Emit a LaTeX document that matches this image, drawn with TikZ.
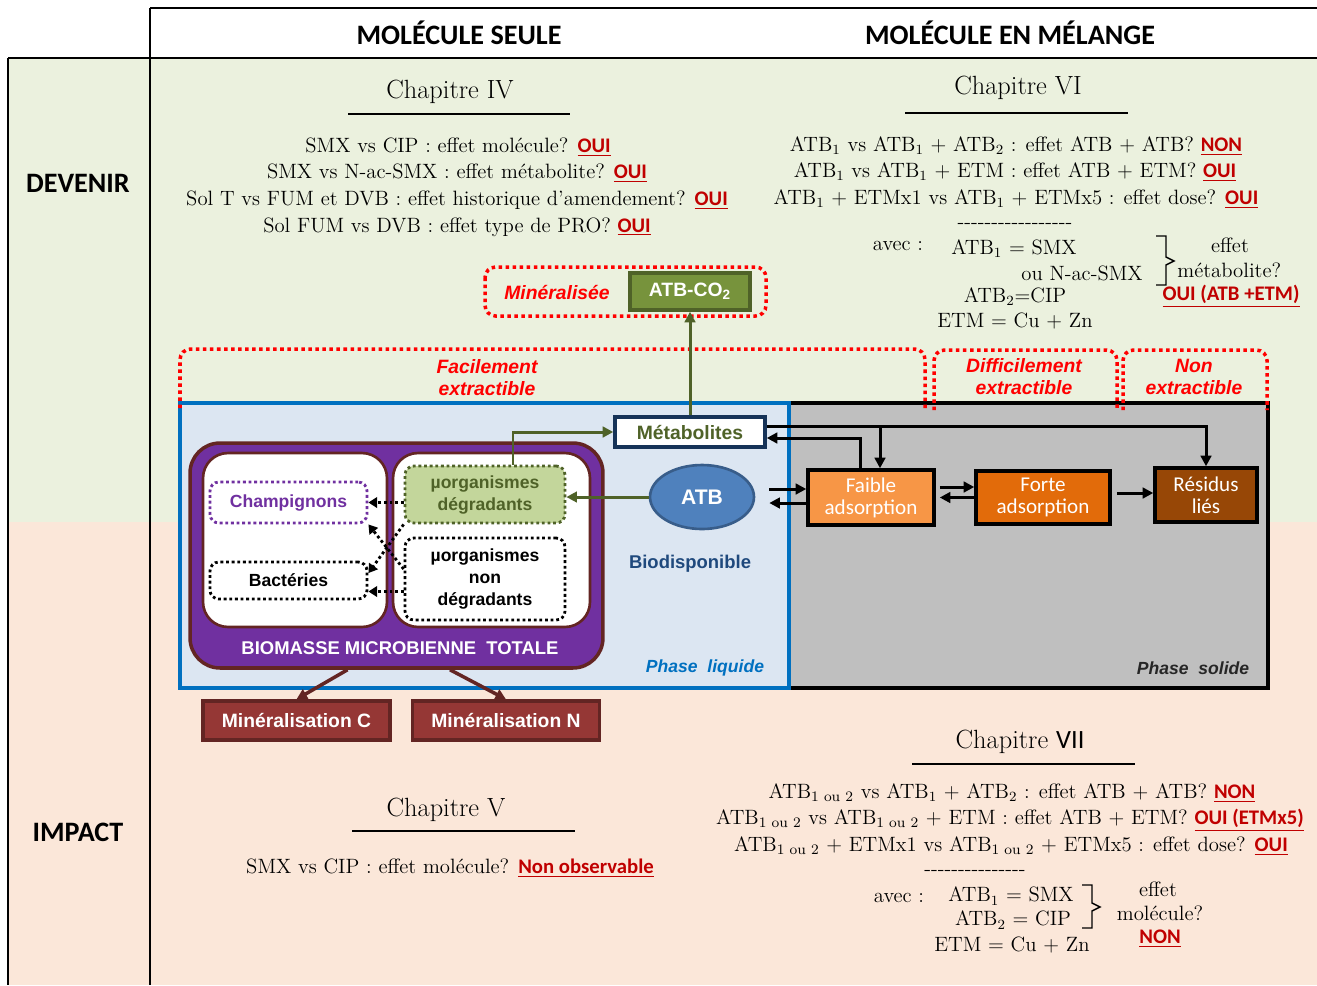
\documentclass[tikz,border=0pt]{standalone}
\usepackage{fontspec}
\setsansfont{Liberation Sans}
\newfontfamily\calib{Carlito}
\usetikzlibrary{arrows.meta,shapes.geometric}

\definecolor{DevGreen}{HTML}{EBF1DE}
\definecolor{ImpPeach}{HTML}{FBE7D9}
\definecolor{LiqBlue}{HTML}{DCE6F2}
\definecolor{SolGray}{HTML}{BFBFBF}
\definecolor{AnsRed}{HTML}{C00000}
\definecolor{OliveDk}{HTML}{4F6228}
\definecolor{Olive}{HTML}{77933C}
\definecolor{OliveLt}{HTML}{C3D69B}
\definecolor{BioPurple}{HTML}{7030A0}
\definecolor{Maroon}{HTML}{632523}
\definecolor{Brick}{HTML}{953735}
\definecolor{OrgLt}{HTML}{F79646}
\definecolor{OrgMd}{HTML}{E26B0A}
\definecolor{OrgDk}{HTML}{974706}
\definecolor{AtbBlue}{HTML}{4F81BD}
\definecolor{AtbEdge}{HTML}{385D8A}
\definecolor{NavyDk}{HTML}{1F497D}
\definecolor{PhaseBlue}{HTML}{0070C0}

\newcommand{\rep}[1]{{\calib\bfseries\color{AnsRed}\underline{#1}}}

\begin{document}
\begin{tikzpicture}[x=0.02cm,y=-0.02cm,
grid/.style={line width=1.2pt},
uline/.style={line width=0.8pt},
hdr/.style={font=\calib\bfseries\fontsize{16}{19}\selectfont},
chap/.style={font=\fontsize{15}{18}\selectfont},
qline/.style={font=\fontsize{11.8}{15}\selectfont,inner sep=0pt},
zone/.style={draw=red,line width=2pt,dash pattern=on 2pt off 2pt,rounded corners=6pt},
zlbl/.style={text=red,font=\sffamily\bfseries\itshape\fontsize{11}{12.5}\selectfont,align=center},
sbox/.style={draw=black,line width=2pt,text=white,font=\calib\fontsize{12}{12.5}\selectfont,align=center,inner sep=0pt},
mbox/.style={draw=Maroon,line width=2pt,fill=Brick,text=white,font=\sffamily\bfseries\fontsize{11}{13}\selectfont,minimum width=3.75cm,minimum height=0.78cm},
org/.style={rounded corners=5pt,line width=1.6pt,dash pattern=on 1.6pt off 1.6pt,font=\sffamily\bfseries\fontsize{10}{12.5}\selectfont,align=center,inner sep=0pt},
dotarr/.style={-{Triangle[length=5pt,width=6pt]},line width=1.6pt,dash pattern=on 1.6pt off 1.6pt},
blk/.style={-{Triangle[length=6pt,width=6pt]},line width=1.7pt},
grn/.style={-{Triangle[length=6pt,width=6pt]},line width=1.7pt,draw=OliveDk},
mar/.style={-{Triangle[length=6pt,width=6pt]},line width=2pt,draw=Maroon}]

% fonds et grille
\useasboundingbox (0,0) rectangle (1317,985);
\fill[DevGreen] (8,58) rectangle (1317,522);
\fill[ImpPeach] (8,522) rectangle (1317,985);
\draw[grid] (150,8) -- (1317,8);
\draw[grid] (8,58) -- (1317,58);
\draw[grid] (150,8) -- (150,985);
\draw[grid] (8,58) -- (8,985);

\node[hdr] (seule) at (459,33) {MOLÉCULE SEULE};
\node[hdr] (melange) at (1010,33) {MOLÉCULE EN MÉLANGE};
\node[hdr] (devenir) at (78,183) {DEVENIR};
\node[hdr] (impact) at (78,832) {IMPACT};

% chapitre IV
\node[chap] (ch4) at (450,92) {Chapitre IV};
\draw[uline] (348,114) -- (570,114);
\node[qline] (q4a) at (458,147) {SMX vs CIP : effet molécule? \rep{OUI}};
\node[qline] (q4b) at (457,173) {SMX vs N-ac-SMX : effet métabolite? \rep{OUI}};
\node[qline] (q4c) at (457,200) {Sol T vs FUM et DVB : effet historique d’amendement? \rep{OUI}};
\node[qline] (q4d) at (457,227) {Sol FUM vs DVB : effet type de PRO? \rep{OUI}};

% chapitre VI
\node[chap] (ch6) at (1018,88) {Chapitre VI};
\draw[uline] (905,113) -- (1128,113);
\node[qline] (q6a) at (1016,146) {ATB$_1$ vs ATB$_1$ + ATB$_2$ : effet ATB + ATB? \rep{NON}};
\node[qline] (q6b) at (1015,172) {ATB$_1$ vs ATB$_1$ + ETM : effet ATB + ETM? \rep{OUI}};
\node[qline] (q6c) at (1016,199) {ATB$_1$ + ETMx1 vs ATB$_1$ + ETMx5 : effet dose? \rep{OUI}};
\node[qline] (t6) at (1015,226) {-{}-{}-{}-{}-{}-{}-{}-{}-{}-{}-{}-{}-{}-{}-{}-{}-};
\node[qline] (avec6) at (898,246) {avec :};
\node[qline] (smx6) at (1014,249) {ATB$_1$ = SMX};
\node[qline] (nac6) at (1082,273) {ou N-ac-SMX};
\node[qline] (cip6) at (1015,297) {ATB$_2$=CIP};
\node[qline] (etm6) at (1015,321) {ETM = Cu + Zn};
\draw[uline] (1156,236) -- (1166,236) -- (1166,257) -- (1174,261) -- (1166,265) -- (1166,285) -- (1156,285);
\node[qline] (eff6) at (1230,245) {effet};
\node[qline,anchor=west] (met6) at (1177,270) {métabolite?};
\node[qline] (rep6) at (1231,296) {\rep{OUI (ATB +ETM)}};

% chapitre V
\node[chap] (ch5) at (446,810) {Chapitre V};
\draw[uline] (352,831) -- (575,831);
\node[qline] (q5a) at (450,868) {SMX vs CIP : effet molécule? \rep{Non observable}};

% chapitre VII
\node[chap] (ch7) at (1020,742) {Chapitre {\calib VII}};
\draw[uline] (912,764) -- (1135,764);
\node[qline] (q7a) at (1012,793) {ATB\textsubscript{1 ou 2} vs ATB$_1$ + ATB$_2$ : effet ATB + ATB? \rep{NON}};
\node[qline] (q7b) at (1010,820) {ATB\textsubscript{1 ou 2} vs ATB\textsubscript{1 ou 2} + ETM : effet ATB + ETM? \rep{OUI (ETMx5)}};
\node[qline] (q7c) at (1011,846) {ATB\textsubscript{1 ou 2} + ETMx1 vs ATB\textsubscript{1 ou 2} + ETMx5 : effet dose? \rep{OUI}};
\node[qline] (t7) at (975,873) {-{}-{}-{}-{}-{}-{}-{}-{}-{}-{}-{}-{}-{}-{}-};
\node[qline] (avec7) at (899,898) {avec :};
\node[qline] (smx7) at (1011,896) {ATB$_1$ = SMX};
\node[qline] (cip7) at (1013,920) {ATB$_2$ = CIP};
\node[qline] (etm7) at (1012,945) {ETM = Cu + Zn};
\draw[uline] (1082,885) -- (1092,885) -- (1092,903) -- (1100,907) -- (1092,911) -- (1092,928) -- (1082,928);
\node[qline] (eff7) at (1158,889) {effet};
\node[qline] (mol7) at (1160,913) {molécule?};
\node[qline] (rep7) at (1160,939) {\rep{NON}};

% phases
\node[draw=black,fill=SolGray,line width=1.8pt,minimum width=9.58cm,minimum height=5.7cm] (solide) at (1028.5,545.5) {};
\node[draw=PhaseBlue,fill=LiqBlue,line width=1.8pt,minimum width=12.18cm,minimum height=5.7cm] (liquide) at (484.5,545.5) {};
\node[text=PhaseBlue,font=\sffamily\bfseries\itshape\fontsize{10}{12}\selectfont] (phliq) at (705,668) {Phase~~liquide};
\node[text=black!85,font=\sffamily\bfseries\itshape\fontsize{10}{12}\selectfont] (phsol) at (1193,668) {Phase~~solide};

% biomasse
\node[draw=Maroon,fill=BioPurple,line width=2pt,rounded corners=0.6cm,minimum width=8.26cm,minimum height=4.5cm] (biomasse) at (396.5,555.5) {};
\node[draw=Maroon,fill=white,line width=1.5pt,rounded corners=0.5cm,minimum width=3.68cm,minimum height=3.48cm] (gauche) at (295,540) {};
\node[draw=Maroon,fill=white,line width=1.5pt,rounded corners=0.5cm,minimum width=3.94cm,minimum height=3.48cm] (droite) at (491.5,540) {};
\node[text=white,font=\sffamily\bfseries\fontsize{10.5}{12}\selectfont] (biolbl) at (400,648) {BIOMASSE MICROBIENNE~~TOTALE};
\node[org,draw=BioPurple,text=BioPurple,minimum width=3.14cm,minimum height=0.82cm] (champ) at (288.5,502.5) {Champignons};
\node[org,draw=black,minimum width=3.14cm,minimum height=0.74cm] (bact) at (288.5,580.5) {Bactéries};
\node[org,draw=OliveDk,fill=OliveLt,text=OliveDk,minimum width=3.2cm,minimum height=1.14cm] (degr) at (485,494.5) {µorganismes\\dégradants};
\node[org,draw=black,fill=white,minimum width=3.2cm,minimum height=1.64cm] (nondegr) at (485,579) {µorganismes\\non\\dégradants};

% ATB et metabolites
\node[ellipse,draw=AtbEdge,fill=AtbBlue,line width=1.5pt,minimum width=2.08cm,minimum height=1.28cm,text=white,font=\sffamily\bfseries\fontsize{12}{14}\selectfont] (atb) at (702,497) {ATB};
\node[text=NavyDk,font=\sffamily\bfseries\fontsize{10.5}{12}\selectfont] (biodisp) at (690,564) {Biodisponible};
\node[draw=NavyDk!70!black,fill=white,line width=2pt,minimum width=3cm,minimum height=0.6cm,inner sep=0pt,text=OliveDk,font=\sffamily\bfseries\fontsize{11}{13}\selectfont] (metab) at (690,432) {Métabolites};
\node[draw=OliveDk,fill=Olive,line width=2pt,minimum width=2.4cm,minimum height=0.74cm,inner sep=0pt,text=white,font=\sffamily\bfseries\fontsize{11}{13}\selectfont] (atbco2) at (690,291.5) {ATB-CO\textsubscript{2}};
\node[zlbl] (minlbl) at (557,292) {Minéralisée};

% phase solide
\node[sbox,fill=OrgLt,minimum width=2.52cm,minimum height=1.1cm] (faible) at (871,497.5) {Faible\\adsorption};
\node[sbox,fill=OrgMd,minimum width=2.68cm,minimum height=1.06cm] (forte) at (1043,497.5) {Forte\\adsorption};
\node[sbox,fill=OrgDk,minimum width=2.04cm,minimum height=1.08cm] (residus) at (1206,495) {Résidus\\liés};

% mineralisation
\node[mbox] (minC) at (296.5,720.5) {Minéralisation C};
\node[mbox] (minN) at (506,720.5) {Minéralisation N};

% zones d'extraction
\draw[zone] (485,267) rectangle (766,316);
\draw[zone] (180,408) -- (180,349) -- (925,349) -- (925,408);
\draw[zone] (934,410) -- (934,350) -- (1117,350) -- (1117,410);
\draw[zone] (1123,410) -- (1123,350) -- (1267,350) -- (1267,410);
\node[zlbl] (facile) at (487,378) {Facilement\\extractible};
\node[zlbl] (diffic) at (1024,377) {Difficilement\\extractible};
\node[zlbl] (nonext) at (1194,377) {Non\\extractible};

% fleches
\draw[grn] (atb.west) -- (atb.west -| degr.east);
\draw[grn] ([xshift=0.56cm]degr.north) |- (metab.west);
\draw[grn] (metab.north) -- (atbco2.south);
\draw[dotarr] (degr.west |- champ.east) -- (champ.east);
\draw[dotarr] (degr.south west) -- ([yshift=-0.25cm]bact.north east);
\draw[dotarr] ([yshift=0.2cm]nondegr.west) -- (champ.south east);
\draw[dotarr] ([yshift=-0.22cm]bact.east -| nondegr.west) -- ([yshift=-0.22cm]bact.east);
\coordinate (haut) at ([yshift=0.12cm]metab.east);
\coordinate (fb) at ([xshift=0.18cm]faible.north);
\draw[blk] (haut) -| (residus.north);
\draw[blk] (haut -| fb) -- (fb);
\draw[blk] ([xshift=-0.22cm]faible.north) |- ([yshift=-0.12cm]metab.east);
\draw[blk] ([xshift=0.28cm,yshift=0.16cm]atb.east) -- ([yshift=0.16cm]atb.east -| faible.west);
\draw[blk] ([yshift=-0.12cm]atb.east -| faible.west) -- ([xshift=0.28cm,yshift=-0.12cm]atb.east);
\draw[blk] ([xshift=0.08cm,yshift=0.21cm]faible.east) -- ([yshift=0.21cm]forte.west);
\draw[blk] (forte.west) -- ([xshift=0.08cm]faible.east);
\draw[blk] ([xshift=0.1cm,yshift=0.09cm]forte.east) -- ([yshift=0.09cm]forte.east -| residus.west);
\draw[mar] ([xshift=-0.98cm]biomasse.south) -- (minC.north);
\draw[mar] ([xshift=1.07cm]biomasse.south) -- (minN.north);

\end{tikzpicture}
\end{document}
